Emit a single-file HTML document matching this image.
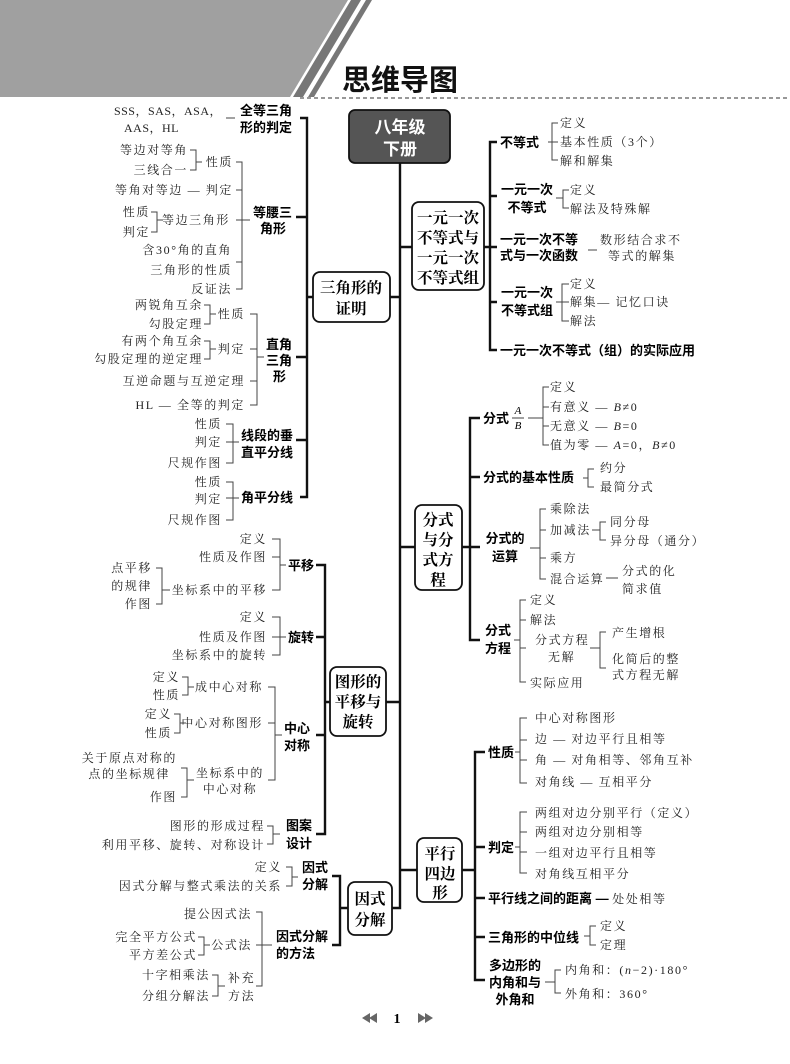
<!DOCTYPE html>
<html><head><meta charset="utf-8"><style>
html,body{margin:0;padding:0;background:#fff;}
svg{display:block}
.l{font-family:"Liberation Serif","Noto Serif CJK SC",serif;font-size:12px;letter-spacing:1.6px;fill:#222}
.m{font-family:"Liberation Sans","Noto Sans CJK SC",sans-serif;font-size:13px;fill:#000;font-weight:bold}
.b{font-family:"Liberation Serif","Noto Serif CJK SC",serif;font-size:15.5px;fill:#000;text-anchor:middle;font-weight:bold}
.e{text-anchor:end}.c{text-anchor:middle}
.t{stroke:#111;stroke-width:2.4;fill:none}
.s{stroke:#444;stroke-width:1;fill:none}
.bx{fill:#fff;stroke:#111;stroke-width:1.8}
</style></head><body>
<svg width="790" height="1064" viewBox="0 0 790 1064" xmlns="http://www.w3.org/2000/svg">
<polygon points="0,0 348,0 290,97 0,97" fill="#a0a0a0"/>
<polygon points="351,0 361,0 303,97 293,97" fill="#777"/>
<polygon points="366,0 372,0 314,97 308,97" fill="#777"/>
<text x="342" y="90" style="font-family:'Liberation Sans','Noto Sans CJK SC',sans-serif;font-size:29px;font-weight:bold;fill:#111">思维导图</text>
<line x1="300" y1="98" x2="790" y2="98" stroke="#777" stroke-width="1.5" stroke-dasharray="4,3"/>

<path class="t" d="M400 163 V908 H392 M400 247 H412 M400 547 H415 M400 870 H417 M400 297 H390 M400 702 H385"/>
<rect x="349" y="110" width="101" height="53" rx="6" fill="#555" stroke="#111" stroke-width="1.8"/>
<text x="400" y="133" class="c" style="font-family:'Liberation Sans','Noto Sans CJK SC',sans-serif;font-size:17px;font-weight:bold;fill:#fff">八年级</text>
<text x="400" y="155" class="c" style="font-family:'Liberation Sans','Noto Sans CJK SC',sans-serif;font-size:17px;font-weight:bold;fill:#fff">下册</text>

<rect class="bx" x="313" y="272" width="77" height="50" rx="7"/>
<text class="b" x="351" y="293">三角形的</text><text class="b" x="351" y="314">证明</text>
<path class="t" d="M300 118 H307 V497 H300 M296 217 H307 M296 357 H307 M296 440 H307 M307 297 H313"/>
<text class="l e" x="222" y="115" style="letter-spacing:0.5px">SSS，SAS，ASA，</text>
<text class="l" x="124" y="132" style="letter-spacing:0.5px">AAS，HL</text>
<line class="s" x1="226" y1="118" x2="235" y2="118"/>
<text class="m" x="240" y="115">全等三角</text><text class="m" x="240" y="132">形的判定</text>
<text class="m" x="253" y="217">等腰三</text><text class="m" x="260" y="233">角形</text>
<path class="s" d="M236 162 H242 V289 H236 M236 190 H242 M236 220 H250 M236 262 H242"/>
<text class="l e" x="233" y="166">性质</text>
<path class="s" d="M190 150 H196 V170 H190 M196 162 H202"/>
<text class="l e" x="188" y="154">等边对等角</text><text class="l e" x="188" y="174">三线合一</text>
<text class="l e" x="233" y="194">等角对等边 — 判定</text>
<text class="l e" x="230" y="224">等边三角形</text>
<path class="s" d="M151 212 H157 V232 H151 M157 220 H163"/>
<text class="l e" x="150" y="216">性质</text><text class="l e" x="150" y="236">判定</text>
<text class="l e" x="232" y="254">含30°角的直角</text><text class="l e" x="232" y="274">三角形的性质</text>
<text class="l e" x="232" y="293">反证法</text>
<text class="m" x="266" y="349">直角</text><text class="m" x="266" y="365">三角</text><text class="m" x="273" y="381">形</text>
<path class="s" d="M250 314 H257 V405 H250 M250 349 H257 M250 381 H257 M257 357 H264"/>
<text class="l e" x="245" y="318">性质</text>
<path class="s" d="M204 305 H210 V324 H204 M210 314 H216"/>
<text class="l e" x="203" y="309">两锐角互余</text><text class="l e" x="203" y="328">勾股定理</text>
<text class="l e" x="245" y="353">判定</text>
<path class="s" d="M204 341 H210 V359 H204 M210 349 H216"/>
<text class="l e" x="203" y="345">有两个角互余</text><text class="l e" x="203" y="363">勾股定理的逆定理</text>
<text class="l e" x="245" y="385">互逆命题与互逆定理</text>
<text class="l e" x="245" y="409">HL — 全等的判定</text>
<text class="m" x="241" y="440">线段的垂</text><text class="m" x="241" y="457">直平分线</text>
<path class="s" d="M226 424 H233 V463 H226 M226 442 H239"/>
<text class="l e" x="222" y="428">性质</text><text class="l e" x="222" y="446">判定</text><text class="l e" x="222" y="467">尺规作图</text>
<text class="m" x="241" y="502">角平分线</text>
<path class="s" d="M226 482 H233 V520 H226 M226 498 H239"/>
<text class="l e" x="222" y="486">性质</text><text class="l e" x="222" y="503">判定</text><text class="l e" x="222" y="524">尺规作图</text>

<rect class="bx" x="330" y="667" width="56" height="69" rx="7"/>
<text class="b" x="358" y="687">图形的</text><text class="b" x="358" y="707">平移与</text><text class="b" x="358" y="727">旋转</text>
<path class="t" d="M316 565 H325 V834 H316 M316 637 H325 M316 735 H325 M325 702 H330"/>
<text class="m" x="288" y="570">平移</text>
<path class="s" d="M272 539 H280 V590 H272 M272 557 H280 M280 565 H286"/>
<text class="l e" x="267" y="543">定义</text><text class="l e" x="267" y="561">性质及作图</text><text class="l e" x="267" y="594">坐标系中的平移</text>
<path class="s" d="M156 568 H162 V604 H156 M162 590 H170"/>
<text class="l e" x="152" y="572">点平移</text><text class="l e" x="152" y="590">的规律</text><text class="l e" x="152" y="608">作图</text>
<text class="m" x="288" y="642">旋转</text>
<path class="s" d="M272 617 H280 V655 H272 M272 637 H286"/>
<text class="l e" x="267" y="621">定义</text><text class="l e" x="267" y="641">性质及作图</text><text class="l e" x="267" y="659">坐标系中的旋转</text>
<text class="m" x="284" y="733">中心</text><text class="m" x="284" y="750">对称</text>
<path class="s" d="M268 687 H275 V780 H268 M268 723 H275 M275 735 H282"/>
<text class="l e" x="263" y="691">成中心对称</text>
<path class="s" d="M182 677 H188 V695 H182 M188 687 H194"/>
<text class="l e" x="180" y="681">定义</text><text class="l e" x="180" y="699">性质</text>
<text class="l e" x="263" y="727">中心对称图形</text>
<path class="s" d="M174 714 H180 V733 H174 M180 723 H186"/>
<text class="l e" x="172" y="718">定义</text><text class="l e" x="172" y="737">性质</text>
<text class="l c" x="230" y="777">坐标系中的</text><text class="l c" x="230" y="793">中心对称</text>
<path class="s" d="M181 768 H187 V797 H181 M187 780 H194"/>
<text class="l e" x="177" y="762">关于原点对称的</text><text class="l e" x="170" y="778">点的坐标规律</text><text class="l e" x="177" y="801">作图</text>
<text class="m" x="286" y="830">图案</text><text class="m" x="286" y="848">设计</text>
<path class="s" d="M267 826 H273 V844 H267 M273 834 H280"/>
<text class="l e" x="265" y="830">图形的形成过程</text><text class="l e" x="265" y="849">利用平移、旋转、对称设计</text>

<rect class="bx" x="348" y="882" width="44" height="53" rx="7"/>
<text class="b" x="370" y="904">因式</text><text class="b" x="370" y="925">分解</text>
<path class="t" d="M332 876 H340 V945 H332 M340 908 H348"/>
<text class="m" x="302" y="872">因式</text><text class="m" x="302" y="889">分解</text>
<path class="s" d="M286 867 H292 V886 H286 M292 877 H298"/>
<text class="l e" x="282" y="871">定义</text><text class="l e" x="282" y="890">因式分解与整式乘法的关系</text>
<text class="m" x="276" y="941">因式分解</text><text class="m" x="276" y="958">的方法</text>
<path class="s" d="M256 912 H262 V986 H256 M256 945 H262 M262 945 H272"/>
<text class="l e" x="252" y="918">提公因式法</text><text class="l e" x="252" y="949">公式法</text>
<path class="s" d="M198 937 H204 V955 H198 M204 945 H210"/>
<text class="l e" x="197" y="941">完全平方公式</text><text class="l e" x="197" y="959">平方差公式</text>
<text class="l" x="228" y="982">补充</text><text class="l" x="228" y="1000">方法</text>
<path class="s" d="M212 975 H218 V996 H212 M218 986 H225"/>
<text class="l e" x="210" y="979">十字相乘法</text><text class="l e" x="210" y="1000">分组分解法</text>

<rect class="bx" x="412" y="202" width="72" height="88" rx="7"/>
<text class="b" x="448" y="223">一元一次</text><text class="b" x="448" y="243">不等式与</text><text class="b" x="448" y="263">一元一次</text><text class="b" x="448" y="283">不等式组</text>
<path class="t" d="M497 142 H490 V350 H497 M484 247 H497 M490 196 H497 M490 302 H497"/>
<text class="m" x="500" y="147">不等式</text>
<path class="s" d="M548 142 H552 M558 123 H552 V160 H558 M552 142 H558"/>
<text class="l" x="560" y="127">定义</text><text class="l" x="560" y="146">基本性质（3个）</text><text class="l" x="560" y="165">解和解集</text>
<text class="m c" x="527" y="194">一元一次</text><text class="m c" x="527" y="212">不等式</text>
<path class="s" d="M556 198 H563 M569 190 H563 V208 H569"/>
<text class="l" x="570" y="194">定义</text><text class="l" x="570" y="213">解法及特殊解</text>
<text class="m" x="500" y="244">一元一次不等</text><text class="m" x="500" y="260">式与一次函数</text>
<line class="s" x1="588" y1="250" x2="597" y2="250"/>
<text class="l" x="600" y="244">数形结合求不</text><text class="l" x="608" y="260">等式的解集</text>
<text class="m c" x="527" y="297">一元一次</text><text class="m c" x="527" y="315">不等式组</text>
<path class="s" d="M556 302 H562 M569 284 H562 V321 H569 M562 302 H569"/>
<text class="l" x="570" y="288">定义</text><text class="l" x="570" y="306">解集— 记忆口诀</text><text class="l" x="570" y="325">解法</text>
<text class="m" x="500" y="355">一元一次不等式（组）的实际应用</text>

<rect class="bx" x="415" y="505" width="47" height="85" rx="7"/>
<text class="b" x="438" y="525">分式</text><text class="b" x="438" y="545">与分</text><text class="b" x="438" y="565">式方</text><text class="b" x="438" y="585">程</text>
<path class="t" d="M480 418 H470 V640 H480 M462 547 H480 M470 477 H480"/>
<text class="m" x="483" y="423">分式</text>
<text x="518" y="414" class="c" style="font-family:'Liberation Serif',serif;font-style:italic;font-size:11px">A</text>
<line x1="512" y1="418" x2="524" y2="418" stroke="#111" stroke-width="0.8"/>
<text x="518" y="429" class="c" style="font-family:'Liberation Serif',serif;font-style:italic;font-size:11px">B</text>
<path class="s" d="M528 418 H543 M549 387 H543 V445 H549 M543 407 H549 M543 426 H549"/>
<text class="l" x="550" y="391">定义</text><text class="l" x="550" y="411">有意义 — <tspan font-style="italic">B</tspan>≠0</text><text class="l" x="550" y="430">无意义 — <tspan font-style="italic">B</tspan>=0</text><text class="l" x="550" y="449">值为零 — <tspan font-style="italic">A</tspan>=0，<tspan font-style="italic">B</tspan>≠0</text>
<text class="m" x="483" y="482">分式的基本性质</text>
<path class="s" d="M583 478 H588 M594 469 H588 V487 H594"/>
<text class="l" x="600" y="472">约分</text><text class="l" x="600" y="491">最简分式</text>
<text class="m c" x="505" y="543">分式的</text><text class="m c" x="505" y="561">运算</text>
<path class="s" d="M530 548 H540 M546 509 H540 V579 H546 M540 530 H546 M540 558 H546"/>
<text class="l" x="550" y="513">乘除法</text><text class="l" x="550" y="534">加减法</text><text class="l" x="550" y="562">乘方</text><text class="l" x="550" y="583">混合运算</text>
<path class="s" d="M592 530 H600 M606 522 H600 V540 H606"/>
<text class="l" x="610" y="526">同分母</text><text class="l" x="610" y="545">异分母（通分）</text>
<line class="s" x1="606" y1="578" x2="618" y2="578"/>
<text class="l" x="622" y="575">分式的化</text><text class="l" x="622" y="593">简求值</text>
<text class="m" x="485" y="635">分式</text><text class="m" x="485" y="653">方程</text>
<path class="s" d="M514 640 H520 M526 600 H520 V682 H526 M520 620 H526 M520 648 H526"/>
<text class="l" x="530" y="604">定义</text><text class="l" x="530" y="624">解法</text><text class="l" x="535" y="644">分式方程</text><text class="l" x="548" y="661">无解</text><text class="l" x="530" y="687">实际应用</text>
<path class="s" d="M590 648 H600 M606 632 H600 V668 H606"/>
<text class="l" x="612" y="637">产生增根</text><text class="l" x="612" y="663">化简后的整</text><text class="l" x="612" y="679">式方程无解</text>

<rect class="bx" x="417" y="838" width="45" height="64" rx="7"/>
<text class="b" x="440" y="859">平行</text><text class="b" x="440" y="879">四边</text><text class="b" x="440" y="898">形</text>
<path class="t" d="M485 752 H475 V980 H485 M462 870 H475 M475 847 H485 M475 898 H485 M475 937 H485"/>
<text class="m" x="488" y="757">性质</text>
<path class="s" d="M515 752 H520 M527 718 H520 V783 H527 M520 740 H527 M520 760 H527"/>
<text class="l" x="535" y="722">中心对称图形</text><text class="l" x="535" y="743">边 — 对边平行且相等</text><text class="l" x="535" y="764">角 — 对角相等、邻角互补</text><text class="l" x="535" y="786">对角线 — 互相平分</text>
<text class="m" x="488" y="852">判定</text>
<path class="s" d="M515 847 H520 M527 812 H520 V873 H527 M520 832 H527 M520 852 H527"/>
<text class="l" x="535" y="817">两组对边分别平行（定义）</text><text class="l" x="535" y="836">两组对边分别相等</text><text class="l" x="535" y="857">一组对边平行且相等</text><text class="l" x="535" y="878">对角线互相平分</text>
<text class="m" x="488" y="903">平行线之间的距离 — <tspan class="l" style="font-size:12px;font-weight:normal">处处相等</tspan></text>
<text class="m" x="488" y="942">三角形的中位线</text>
<path class="s" d="M584 936 H590 M596 926 H590 V945 H596"/>
<text class="l" x="600" y="930">定义</text><text class="l" x="600" y="949">定理</text>
<text class="m c" x="515" y="970">多边形的</text><text class="m c" x="515" y="987">内角和与</text><text class="m c" x="515" y="1004">外角和</text>
<path class="s" d="M545 982 H555 M561 970 H555 V993 H561"/>
<text class="l" x="565" y="974">内角和：(<tspan font-style="italic">n</tspan>−2)·180°</text><text class="l" x="565" y="998">外角和：360°</text>

<polygon points="362,1018 370,1013 370,1023" fill="#666"/><polygon points="369,1018 377,1013 377,1023" fill="#666"/>
<text x="397" y="1023" class="c" style="font-family:'Liberation Serif',serif;font-size:14px;font-weight:bold">1</text>
<polygon points="418,1013 426,1018 418,1023" fill="#666"/><polygon points="425,1013 433,1018 425,1023" fill="#666"/>
</svg>
</body></html>
